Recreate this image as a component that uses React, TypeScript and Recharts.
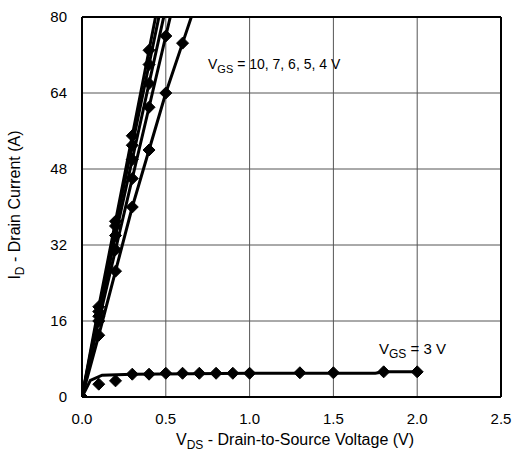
import React from 'react';
import { LineChart, Line, XAxis, YAxis, CartesianGrid, ReferenceLine, Customized } from 'recharts';

const xTicks = [0, 0.5, 1.0, 1.5, 2.0, 2.5];
const yTicks = [0, 16, 32, 48, 64, 80];

const vgs10 = [
  { v: 0, i: 0 }, { v: 0.1, i: 19 }, { v: 0.2, i: 37 }, { v: 0.3, i: 55 }, { v: 0.4, i: 73 }, { v: 0.5, i: 91 },
];
const vgs7 = [
  { v: 0, i: 0 }, { v: 0.1, i: 18 }, { v: 0.2, i: 36 }, { v: 0.3, i: 53 }, { v: 0.4, i: 70 }, { v: 0.5, i: 87 },
];
const vgs6 = [
  { v: 0, i: 0 }, { v: 0.1, i: 17 }, { v: 0.2, i: 34 }, { v: 0.3, i: 50 }, { v: 0.4, i: 66 }, { v: 0.5, i: 82 },
];
const vgs5 = [
  { v: 0, i: 0 }, { v: 0.1, i: 16 }, { v: 0.2, i: 31 }, { v: 0.3, i: 46 }, { v: 0.4, i: 61 }, { v: 0.5, i: 76 }, { v: 0.6, i: 91 },
];
const vgs4 = [
  { v: 0, i: 0 }, { v: 0.1, i: 13 }, { v: 0.2, i: 26.5 }, { v: 0.3, i: 40 }, { v: 0.4, i: 52 }, { v: 0.5, i: 64 }, { v: 0.6, i: 74.5 }, { v: 0.7, i: 85 },
];
const vgs3Line = [
  { v: 0, i: 0 }, { v: 0.05, i: 3.5 }, { v: 0.12, i: 4.6 }, { v: 0.3, i: 4.8 }, { v: 1.0, i: 5.0 }, { v: 1.75, i: 5.0 }, { v: 1.8, i: 5.3 }, { v: 2.0, i: 5.3 },
];
const vgs3Marks = [
  { v: 0, i: 0 }, { v: 0.1, i: 2.7 }, { v: 0.2, i: 3.4 }, { v: 0.3, i: 4.8 }, { v: 0.4, i: 4.8 }, { v: 0.5, i: 5.0 },
  { v: 0.6, i: 5.0 }, { v: 0.7, i: 5.0 }, { v: 0.8, i: 5.0 }, { v: 0.9, i: 5.0 }, { v: 1.0, i: 5.0 },
  { v: 1.3, i: 5.1 }, { v: 1.5, i: 5.1 }, { v: 1.8, i: 5.3 }, { v: 2.0, i: 5.3 },
];

const Diamond = (props: any) => {
  const { cx, cy, index } = props;
  if (cx == null || cy == null) return <g key={index} />;
  const s = 6;
  return (
    <polygon
      key={index}
      points={`${cx},${cy - s} ${cx + s},${cy} ${cx},${cy + s} ${cx - s},${cy}`}
      fill="#000"
      stroke="#000"
    />
  );
};

const font = 'Liberation Sans, Arial, Helvetica, sans-serif';

const Texts = () => (
  <g fontFamily={font} fill="#000">
    <text x={208} y={69} fontSize={14}>
      V<tspan fontSize={11} dy={4}>GS</tspan><tspan dy={-4}> = 10, 7, 6, 5, 4 V</tspan>
    </text>
    <text x={379} y={354} fontSize={15}>
      V<tspan fontSize={12} dy={4}>GS</tspan><tspan dy={-4}> = 3 V</tspan>
    </text>
    <text x={295} y={445} fontSize={16} textAnchor="middle">
      V<tspan fontSize={12} dy={4}>DS</tspan><tspan dy={-4}> - Drain-to-Source Voltage (V)</tspan>
    </text>
    <text x={20} y={205} fontSize={16} textAnchor="middle" transform="rotate(-90 20 205)">
      I<tspan fontSize={12} dy={4}>D</tspan><tspan dy={-4}> - Drain Current (A)</tspan>
    </text>
  </g>
);

const lineProps = {
  type: 'linear' as const,
  dataKey: 'i',
  stroke: '#000',
  strokeWidth: 3,
  isAnimationActive: false,
};

export default function App() {
  return (
    <div style={{ position: 'absolute', left: 0, top: 0 }}>
      <LineChart width={513} height={456} margin={{ top: 17, right: 12, left: 0, bottom: 0 }}>
        <CartesianGrid stroke="#555" strokeWidth={1} />
        <XAxis
          type="number"
          dataKey="v"
          domain={[0, 2.5]}
          ticks={xTicks}
          tickFormatter={(t: number) => t.toFixed(1)}
          allowDataOverflow
          height={59}
          tickLine={false}
          tickMargin={10}
          axisLine={{ stroke: '#000', strokeWidth: 2 }}
          tick={{ fill: '#000', fontSize: 15, fontFamily: font }}
        />
        <YAxis
          type="number"
          dataKey="i"
          domain={[0, 80]}
          ticks={yTicks}
          allowDataOverflow
          width={82}
          tickLine={false}
          tickMargin={9}
          axisLine={{ stroke: '#000', strokeWidth: 2 }}
          tick={{ fill: '#000', fontSize: 15, fontFamily: font }}
        />
        <ReferenceLine y={80} stroke="#000" strokeWidth={2} />
        <ReferenceLine x={2.5} stroke="#000" strokeWidth={2} />
        <Line {...lineProps} data={vgs10} dot={Diamond} />
        <Line {...lineProps} data={vgs7} dot={Diamond} />
        <Line {...lineProps} data={vgs6} dot={Diamond} />
        <Line {...lineProps} data={vgs5} dot={Diamond} />
        <Line {...lineProps} data={vgs4} dot={Diamond} />
        <Line {...lineProps} data={vgs3Line} dot={false} />
        <Line {...lineProps} data={vgs3Marks} stroke="none" dot={Diamond} />
        <Customized component={Texts} />
      </LineChart>
    </div>
  );
}
